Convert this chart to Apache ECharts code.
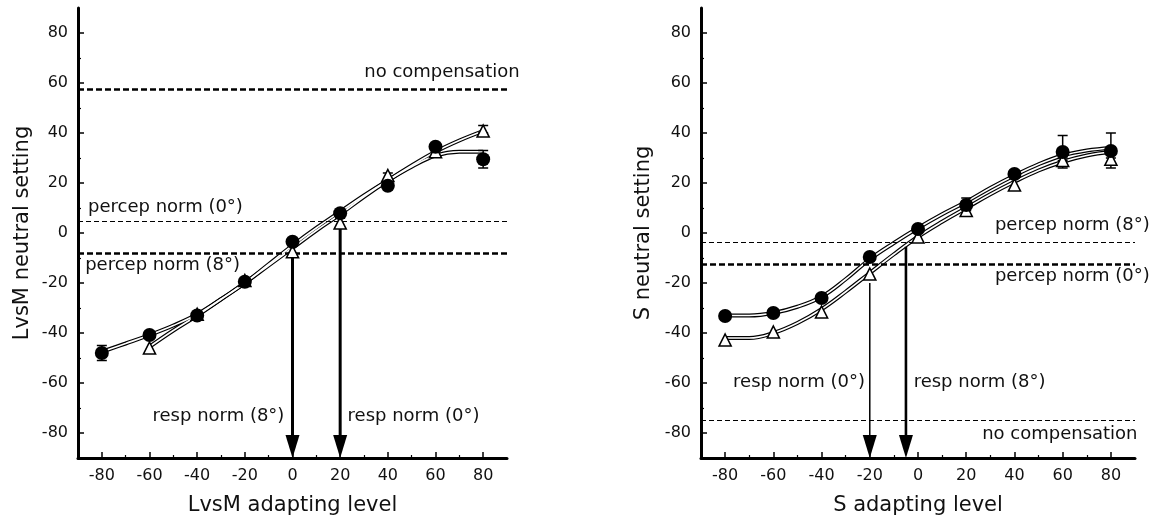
<!DOCTYPE html>
<html>
<head>
<meta charset="utf-8">
<script src="https://cdn.jsdelivr.net/npm/echarts@6/dist/echarts.min.js"></script>
<style>
body { margin: 0; background: #fff; }
#main { width: 1164px; height: 525px; }
</style>
</head>
<body>
<div id="main"></div>
<script>
// tick values
const majorTicks = [-80, -60, -40, -20, 0, 20, 40, 60, 80];
const minorTicks = [-70, -50, -30, -10, 10, 30, 50, 70];

// measured points
const levels = [-80, -60, -40, -20, 0, 20, 40, 60, 80];
const lvsmCircle = [-48, -40.8, -33, -19.5, -3.5, 7.9, 18.9, 34.5, 29.5];
const lvsmTriangle = [null, -46, -32.5, -19, -7.5, 4, 23, 32.5, 40.8];
const sCircle = [-33.2, -32, -26, -9.6, 1.6, 11.2, 23.6, 32.4, 32.8];
const sTriangle = [-42.8, -39.6, -31.6, -16.4, -1.6, 9, 19.2, 29, 29.5];

// fitted curves
const curveX = [-80, -70, -60, -50, -40, -30, -20, -10, 0, 10, 20, 30, 40, 50, 60, 70, 80];
const lvsmCircleFit = [-47.5, -44.2, -40.8, -37, -32.5, -26.5, -20, -12.5, -5, 2, 8.5, 15, 21, 26.5, 31, 32.5, 32.5];
const lvsmTriangleFit = [null, null, -45.5, -39, -33, -26.5, -20, -13, -6, 1, 7.5, 14.5, 21, 27, 32.5, 37, 40.8];
const sCircleFit = [-33, -33, -32, -29.5, -25.5, -18.5, -10.5, -4, 2, 7.5, 12.5, 18, 23, 27.5, 31, 33, 34];
const sTriangleFit = [-42, -42, -40, -36, -30.5, -23.5, -16, -8.5, -1.5, 4.5, 10, 15.5, 20.5, 25, 28.5, 31, 32.5];

// error bars [x, low, high]
const lvsmCircleErr = [[-80, -51, -45], [80, 26, 33]];
const lvsmTriangleErr = [[20, 2, 6], [40, 21, 24], [80, 40, 43]];
const sCircleErr = [[20, 9, 14], [60, 30, 39], [80, 33, 40]];
const sTriangleErr = [[60, 26, 29], [80, 26, 30]];

// reference levels
const lvsmNoComp = 57.5, lvsmPercep0 = 4.8, lvsmPercep8 = -7.9;
const sPercep8 = -3.5, sPercep0 = -12.3, sNoComp = -74.9;

// arrows [x, from, to]
const lvsmArrows = [[0, -8, -90], [20, 2, -90]];
const sArrowThin = [[-20, -20, -90]];
const sArrowThick = [[-5, -5.5, -90]];

// annotations [x, y]
const lvsmNoteText = ['no compensation', 'percep norm (0°)', 'percep norm (8°)', 'resp norm (8°)', 'resp norm (0°)'];
const lvsmNotePos = [[95.3, 64.4], [-85.8, 10.4], [-87, -12.8], [-3.4, -73.2], [23.1, -73.2]];
const lvsmNoteAlign = ['right', 'left', 'left', 'right', 'left'];
const sNoteText = ['percep norm (8°)', 'percep norm (0°)', 'resp norm (0°)', 'resp norm (8°)', 'no compensation'];
const sNotePos = [[31.9, 3.2], [31.9, -17.5], [-22, -59.6], [-1.8, -59.6], [26.6, -80.4]];
const sNoteAlign = ['left', 'left', 'right', 'left', 'left'];

const FONT = 'DejaVu Sans';

function axesFor(gi, dim, name, nameGap) {
    const isX = dim === 'x';
    const pos = isX ? 'bottom' : 'left';
    return [{
        gridIndex: gi,
        type: 'value',
        min: -90,
        max: 90,
        position: pos,
        name: name,
        nameLocation: 'middle',
        nameGap: nameGap,
        nameTextStyle: { fontFamily: FONT, fontSize: 21, color: '#111' },
        axisLine: { show: true, onZero: false, lineStyle: { color: '#000', width: 3 } },
        axisTick: { show: true, inside: true, length: 6, customValues: majorTicks, lineStyle: { color: '#000', width: 1.5 } },
        axisLabel: { show: true, customValues: majorTicks, fontFamily: FONT, fontSize: 16, color: '#111', margin: 10 },
        splitLine: { show: false }
    }, {
        gridIndex: gi,
        type: 'value',
        min: -90,
        max: 90,
        position: pos,
        axisLine: { show: false, onZero: false },
        axisTick: { show: true, inside: true, length: 3, customValues: minorTicks, lineStyle: { color: '#000', width: 1.2 } },
        axisLabel: { show: false },
        splitLine: { show: false }
    }];
}

function pairs(xs, ys) {
    return xs.map((x, i) => [x, ys[i]]).filter(p => p[1] !== null);
}

function curve(gi, xs, ys) {
    const base = { type: 'line', xAxisIndex: gi * 2, yAxisIndex: gi * 2, smooth: 0.4, symbol: 'none', data: pairs(xs, ys), silent: true };
    return [
        Object.assign({}, base, { z: 3, lineStyle: { color: '#000', width: 4 } }),
        Object.assign({}, base, { z: 4, lineStyle: { color: '#fff', width: 1.6 } })
    ];
}

function markers(gi, ys, kind) {
    return {
        type: 'scatter',
        xAxisIndex: gi * 2,
        yAxisIndex: gi * 2,
        z: kind === 'circle' ? 7 : 6,
        symbol: kind === 'circle' ? 'circle' : 'triangle',
        symbolSize: kind === 'circle' ? 14 : 12,
        itemStyle: kind === 'circle'
            ? { color: '#000', opacity: 1 }
            : { color: '#fff', borderColor: '#000', borderWidth: 1.6, opacity: 1 },
        data: pairs(levels, ys)
    };
}

function errorBars(gi, rows) {
    return {
        type: 'custom',
        xAxisIndex: gi * 2,
        yAxisIndex: gi * 2,
        z: 5,
        data: rows,
        renderItem: function (params, api) {
            const lo = api.coord([api.value(0), api.value(1)]);
            const hi = api.coord([api.value(0), api.value(2)]);
            const st = { stroke: '#000', lineWidth: 1.5 };
            return {
                type: 'group',
                children: [
                    { type: 'line', shape: { x1: lo[0], y1: lo[1], x2: hi[0], y2: hi[1] }, style: st },
                    { type: 'line', shape: { x1: lo[0] - 5, y1: lo[1], x2: lo[0] + 5, y2: lo[1] }, style: st },
                    { type: 'line', shape: { x1: hi[0] - 5, y1: hi[1], x2: hi[0] + 5, y2: hi[1] }, style: st }
                ]
            };
        }
    };
}

function arrows(gi, rows, width) {
    return {
        type: 'custom',
        xAxisIndex: gi * 2,
        yAxisIndex: gi * 2,
        z: 5,
        data: rows,
        renderItem: function (params, api) {
            const a = api.coord([api.value(0), api.value(1)]);
            const b = api.coord([api.value(0), api.value(2)]);
            return {
                type: 'group',
                children: [
                    { type: 'line', shape: { x1: a[0], y1: a[1], x2: b[0], y2: b[1] - 10 }, style: { stroke: '#000', lineWidth: width } },
                    { type: 'polygon', shape: { points: [[b[0] - 7, b[1] - 23], [b[0] + 7, b[1] - 23], [b[0], b[1]]] }, style: { fill: '#000' } }
                ]
            };
        }
    };
}

function refLines(gi, thick, thin) {
    const bold = { color: '#000', width: 2.6, type: [6, 3] };
    const light = { color: '#000', width: 1.2, type: [5, 3] };
    return {
        type: 'line',
        xAxisIndex: gi * 2,
        yAxisIndex: gi * 2,
        data: [],
        z: 2,
        markLine: {
            silent: true,
            symbol: 'none',
            label: { show: false },
            animation: false,
            data: thick.map(v => ({ yAxis: v, lineStyle: bold })).concat(thin.map(v => ({ yAxis: v, lineStyle: light })))
        }
    };
}

function notes(gi, texts, pos, aligns) {
    return {
        type: 'custom',
        xAxisIndex: gi * 2,
        yAxisIndex: gi * 2,
        z: 8,
        data: pos,
        renderItem: function (params, api) {
            const p = api.coord([api.value(0), api.value(1)]);
            return {
                type: 'text',
                x: p[0],
                y: p[1],
                style: {
                    text: texts[params.dataIndex],
                    fill: '#111',
                    fontFamily: FONT,
                    fontSize: 18,
                    align: aligns[params.dataIndex],
                    verticalAlign: 'middle'
                }
            };
        }
    };
}

const myChart = echarts.init(document.getElementById('main'), null, { renderer: 'canvas' });

const option = {
    animation: false,
    backgroundColor: '#fff',
    grid: [
        { left: 78, top: 8, width: 429, height: 450 },
        { left: 701, top: 8, width: 434, height: 450 }
    ],
    xAxis: [].concat(axesFor(0, 'x', 'LvsM adapting level', 37), axesFor(1, 'x', 'S adapting level', 37)),
    yAxis: [].concat(axesFor(0, 'y', 'LvsM neutral setting', 45), axesFor(1, 'y', 'S neutral setting', 47)),
    series: [].concat(
        refLines(0, [lvsmNoComp, lvsmPercep8], [lvsmPercep0]),
        refLines(1, [sPercep0], [sPercep8, sNoComp]),
        arrows(0, lvsmArrows, 3),
        arrows(1, sArrowThin, 1.5),
        arrows(1, sArrowThick, 2.6),
        curve(0, curveX, lvsmCircleFit),
        curve(0, curveX, lvsmTriangleFit),
        curve(1, curveX, sCircleFit),
        curve(1, curveX, sTriangleFit),
        errorBars(0, lvsmCircleErr),
        errorBars(0, lvsmTriangleErr),
        errorBars(1, sCircleErr),
        errorBars(1, sTriangleErr),
        markers(0, lvsmTriangle, 'triangle'),
        markers(0, lvsmCircle, 'circle'),
        markers(1, sTriangle, 'triangle'),
        markers(1, sCircle, 'circle'),
        notes(0, lvsmNoteText, lvsmNotePos, lvsmNoteAlign),
        notes(1, sNoteText, sNotePos, sNoteAlign)
    )
};

myChart.setOption(option);
</script>
</body>
</html>
